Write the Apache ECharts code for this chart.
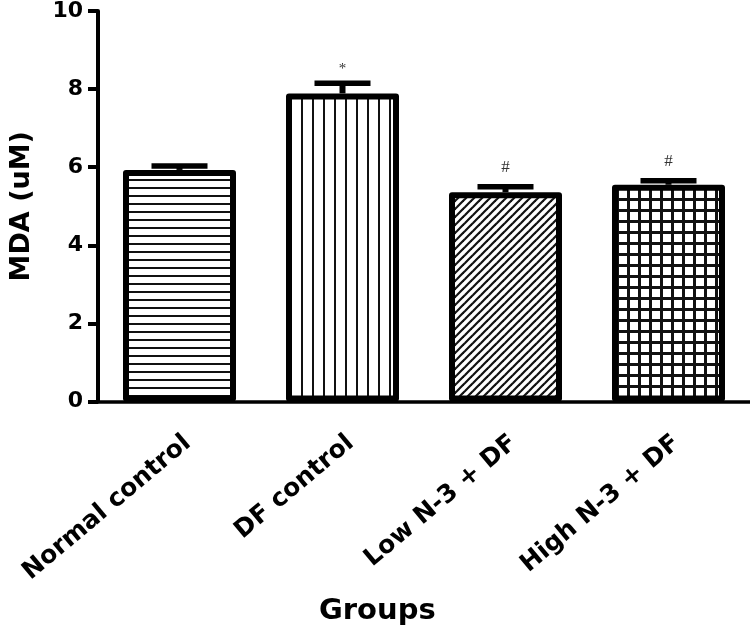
<!DOCTYPE html>
<html>
<head>
<meta charset="utf-8">
<script src="https://cdn.jsdelivr.net/npm/echarts@6/dist/echarts.min.js"></script>
<style>
html,body{margin:0;padding:0;background:#fff;}
#chart{width:750px;height:635px;}
</style>
</head>
<body>
<div id="chart"></div>
<script>
const categories = ['Normal control', 'DF control', 'Low N-3 + DF', 'High N-3 + DF'];
const means = [5.93, 7.89, 5.36, 5.55];
const errors = [0.10, 0.26, 0.14, 0.10];
const marks = ['', '*', '#', '#'];
const yTicks = [0, 2, 4, 6, 8, 10];
const yLabel = 'MDA (uM)';
const xLabel = 'Groups';

function makePattern(kind) {
  const c = document.createElement('canvas');
  const ctx = c.getContext('2d');
  if (kind === 'h') {
    c.width = 8; c.height = 8;
    ctx.fillStyle = '#fff'; ctx.fillRect(0, 0, 8, 8);
    ctx.fillStyle = '#111'; ctx.fillRect(0, 3, 8, 2);
  } else if (kind === 'v') {
    c.width = 11; c.height = 11;
    ctx.fillStyle = '#fff'; ctx.fillRect(0, 0, 11, 11);
    ctx.fillStyle = '#111'; ctx.fillRect(4, 0, 2, 11);
  } else if (kind === 'd') {
    c.width = 8; c.height = 8;
    ctx.fillStyle = '#fff'; ctx.fillRect(0, 0, 8, 8);
    ctx.strokeStyle = '#111'; ctx.lineWidth = 2.2;
    for (const o of [-8, 0, 8]) {
      ctx.beginPath(); ctx.moveTo(o - 1, 9); ctx.lineTo(o + 9, -1); ctx.stroke();
    }
  } else {
    c.width = 11; c.height = 11;
    ctx.fillStyle = '#fff'; ctx.fillRect(0, 0, 11, 11);
    ctx.fillStyle = '#111'; ctx.fillRect(0, 0, 3, 11); ctx.fillRect(0, 0, 11, 3);
  }
  return { image: c, repeat: 'repeat' };
}
const patternKinds = ['h', 'v', 'd', 'g'];

const FONT = 'DejaVu Sans';
const chart = echarts.init(document.getElementById('chart'), null, { renderer: 'canvas' });

const barData = means.map((v, i) => ({
  value: v,
  itemStyle: { color: makePattern(patternKinds[i]) }
}));

chart.setOption({
  animation: false,
  backgroundColor: '#fff',
  title: {
    text: xLabel,
    left: 314, top: 592,
    textStyle: { fontFamily: FONT, fontSize: 29, fontWeight: 'bold', color: '#000' }
  },
  grid: { left: 98, right: 0, top: 11, bottom: 233.5, containLabel: false },
  xAxis: {
    type: 'category',
    data: categories,
    axisLine: { lineStyle: { color: '#000', width: 3.5 } },
    axisTick: { alignWithLabel: true, length: 10, lineStyle: { color: '#000', width: 4 } },
    axisLabel: {
      rotate: 40, margin: 29, verticalAlign: 'top',
      fontFamily: FONT, fontSize: 25, fontWeight: 'bold', color: '#000', interval: 0
    },
    splitLine: { show: false }
  },
  yAxis: {
    type: 'value',
    min: yTicks[0], max: yTicks[yTicks.length - 1], interval: yTicks[1] - yTicks[0],
    name: yLabel, nameLocation: 'middle', nameGap: 63,
    nameTextStyle: { fontFamily: FONT, fontSize: 27, fontWeight: 'bold', color: '#000' },
    axisLine: { show: true, lineStyle: { color: '#000', width: 4 } },
    axisTick: { show: true, length: 10, lineStyle: { color: '#000', width: 4 } },
    axisLabel: { margin: 15, fontFamily: FONT, fontSize: 22, fontWeight: 'bold', color: '#000' },
    splitLine: { show: false }
  },
  series: [
    {
      type: 'bar',
      data: barData,
      barWidth: 113,
      itemStyle: { borderColor: '#000', borderWidth: 6, borderJoin: 'round' },
      z: 2
    },
    {
      type: 'custom',
      z: 3,
      data: means.map((m, i) => [i, m, errors[i]]),
      renderItem: function (params, api) {
        const i = api.value(0), m = api.value(1), e = api.value(2);
        const base = api.coord([i, m]);
        const top = api.coord([i, m + e]);
        const hw = 28;
        const children = [
          { type: 'line', shape: { x1: base[0], y1: base[1], x2: top[0], y2: top[1] },
            style: { stroke: '#000', lineWidth: 6 } },
          { type: 'line', shape: { x1: top[0] - hw, y1: top[1], x2: top[0] + hw, y2: top[1] },
            style: { stroke: '#000', lineWidth: 5.5, lineCap: 'butt' } }
        ];
        const t = marks[params.dataIndex];
        if (t) {
          children.push({ type: 'text', x: top[0], y: top[1] - (t === '*' ? 14 : 19),
            style: { text: t, fill: '#333', fontFamily: 'Liberation Serif', fontSize: t === '*' ? 15 : 17,
                     align: 'center', verticalAlign: 'middle' } });
        }
        return { type: 'group', children: children };
      }
    }
  ]
});
</script>
</body>
</html>
